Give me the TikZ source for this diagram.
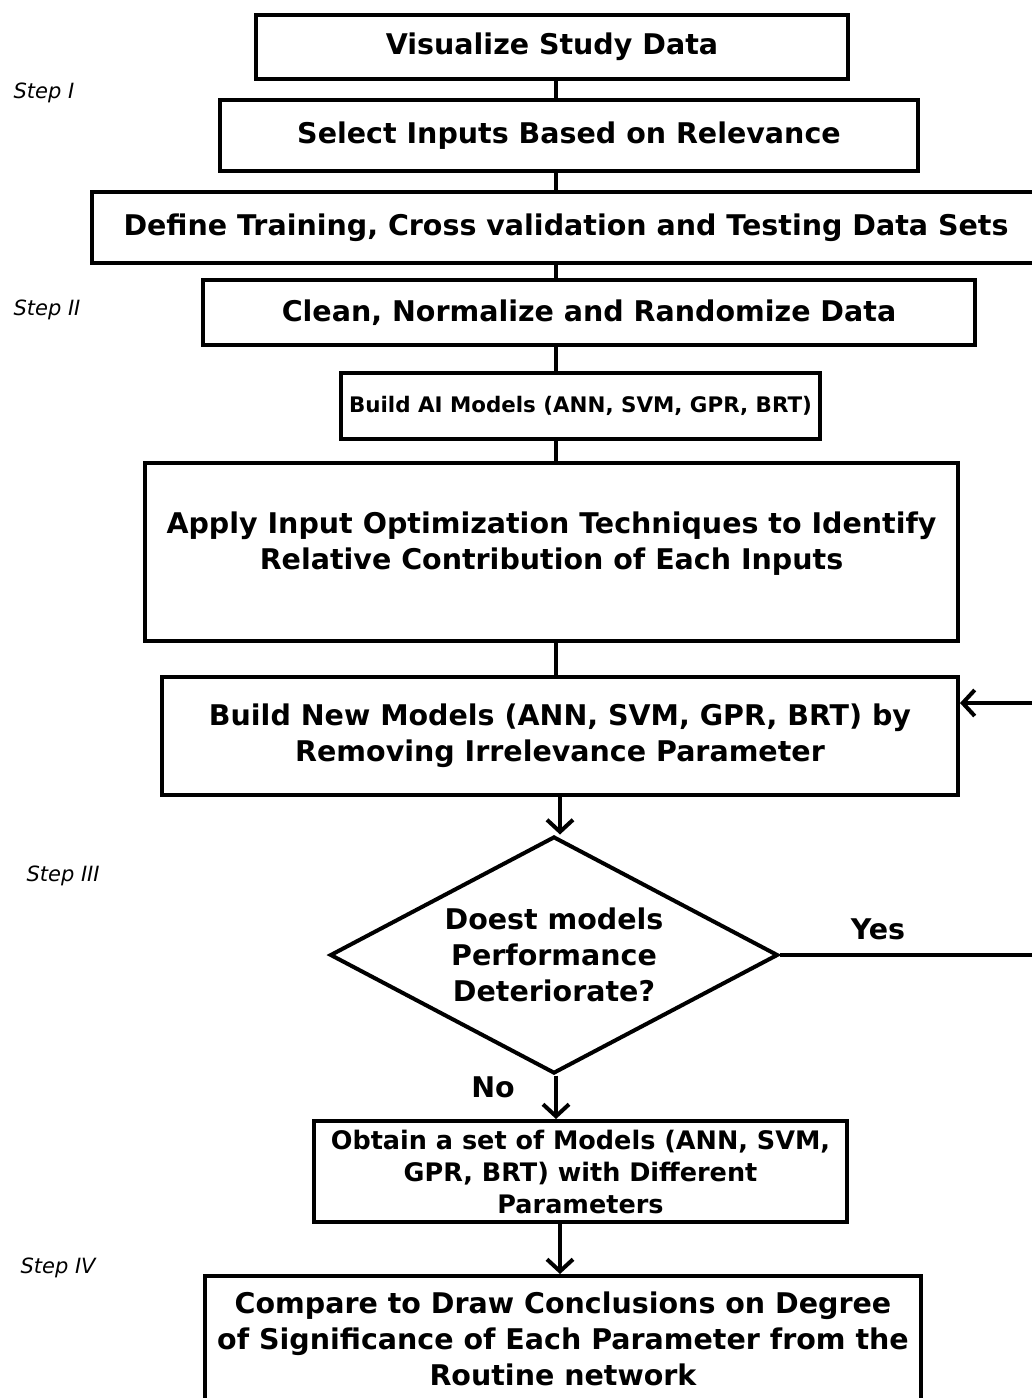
\documentclass[tikz,border=0pt]{standalone}
\usepackage{fontspec}
\setmainfont{DejaVu Sans}
\usetikzlibrary{arrows.meta,shapes.geometric}
\definecolor{fcInk}{HTML}{000000}
\definecolor{fcPaper}{HTML}{FFFFFF}
\tikzset{
  fc box/.style={draw=fcInk, line width=4pt, rectangle, inner sep=0pt, align=center, text=fcInk, font=\bfseries\fontsize{28.5}{36}\selectfont},
  fc decision/.style={draw=fcInk, line width=4pt, diamond, aspect=1.9, inner sep=0pt, align=center, text=fcInk, font=\bfseries\fontsize{28.5}{36}\selectfont},
  fc link/.style={draw=fcInk, line width=4pt},
  fc arrow/.style={draw=fcInk, line width=4pt, -{Straight Barb[length=12pt,width=26pt,line width=4pt]}},
  fc step/.style={anchor=west, text=fcInk, font=\itshape\fontsize{21}{24}\selectfont},
  fc answer/.style={text=fcInk, font=\bfseries\fontsize{28.5}{30}\selectfont},
}
\begin{document}
\begin{tikzpicture}[x=1pt,y=-1pt]
  \clip (0,0) rectangle (1032,1398);
  \fill[fcPaper] (0,0) rectangle (1032,1398);
  \coordinate (spine) at (556,0);
  \coordinate (back) at (1045,703);
  % main column
  \node[fc box, minimum width=592pt, minimum height=64pt] (vis) at (552,47) {Visualize Study Data};
  \node[fc box, minimum width=698pt, minimum height=71pt] (sel) at (569,135.5) {Select Inputs Based on Relevance};
  \node[fc box, minimum width=948pt, minimum height=71pt] (def) at (566,227.5) {Define Training, Cross validation and Testing Data Sets};
  \node[fc box, minimum width=772pt, minimum height=65pt] (cln) at (589,312.5) {Clean, Normalize and Randomize Data};
  \node[fc box, minimum width=479pt, minimum height=66pt, font=\bfseries\fontsize{21.4}{24}\selectfont] (bai) at (580.5,406) {Build AI Models (ANN, SVM, GPR, BRT)};
  \node[fc box, minimum width=813pt, minimum height=178pt, text depth=22pt] (app) at (551.5,552) {Apply Input Optimization Techniques to Identify\\Relative Contribution of Each Inputs};
  \node[fc box, minimum width=796pt, minimum height=118pt] (bnm) at (560,736) {Build New Models (ANN, SVM, GPR, BRT) by\\Removing Irrelevance Parameter};
  \node[fc decision, minimum width=448pt, minimum height=237pt] (dia) at (554,955) {Doest models\\Performance\\Deteriorate?};
  \node[fc box, minimum width=533pt, minimum height=101pt, font=\bfseries\fontsize{25.5}{32}\selectfont] (obt) at (580.5,1171.5) {Obtain a set of Models (ANN, SVM,\\GPR, BRT) with Different\\Parameters};
  \node[fc box, minimum width=716pt, minimum height=126pt] (cmp) at (563,1339) {Compare to Draw Conclusions on Degree\\of Significance of Each Parameter from the\\Routine network};
  % connectors
  \foreach \a/\b in {vis/sel,sel/def,def/cln,cln/bai,bai/app,app/bnm}{\draw[fc link] (\a.south -| spine) -- (\b.north -| spine);}
  \draw[fc arrow] ([xshift=4pt]bnm.south -| spine) -- ([xshift=4pt]dia.north -| spine);
  \draw[fc arrow] (dia.south -| spine) -- (obt.north -| spine);
  \draw[fc arrow] ([xshift=4pt]obt.south -| spine) -- ([xshift=4pt]cmp.north -| spine);
  \draw[fc arrow] (dia.east) -| (back) -- (back -| bnm.east);
  \node[fc answer] (yes) at (878,929) {Yes};
  \node[fc answer] (no) at (493,1087) {No};
  % step labels
  \foreach \t/\x/\y in {Step I/10/93,Step II/10/310,Step III/23/876,Step IV/17/1268}{\node[fc step] at (\x,\y) {\t};}
\end{tikzpicture}
\end{document}
